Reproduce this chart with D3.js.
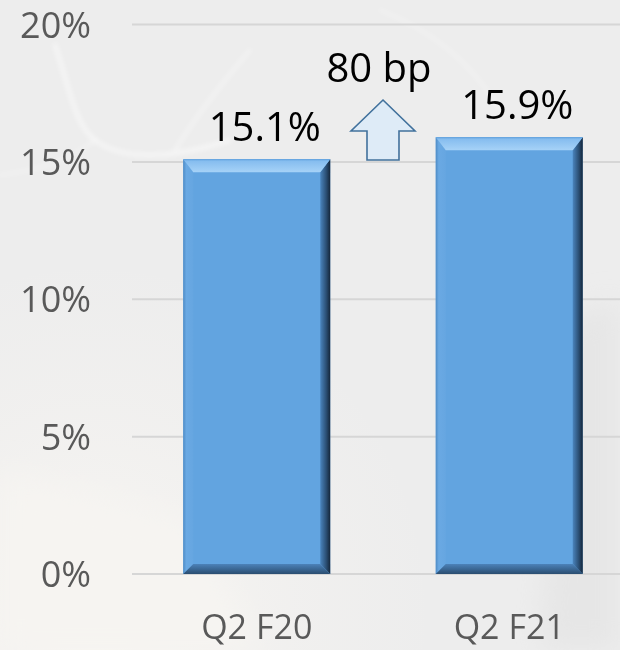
<!DOCTYPE html>
<html>
<head>
<meta charset="utf-8">
<script src="https://cdn.jsdelivr.net/npm/d3@7"></script>
<style>
  html, body { margin: 0; padding: 0; background: #eeeeee; }
  svg { display: block; }
</style>
</head>
<body>
<svg id="chart" width="620" height="650"></svg>
<script>
// Operating margin by quarter
const categories = ["Q2 F20", "Q2 F21"];
const values = [15.1, 15.9];
const valueLabels = ["15.1%", "15.9%"];
const yTicks = [0, 5, 10, 15, 20];
const yTickLabels = ["0%", "5%", "10%", "15%", "20%"];
const changeLabel = "80 bp";

const svg = d3.select("#chart");
const W = 620, H = 650;
const font = "'Open Sans', 'Noto Sans', sans-serif";

const defs = svg.append("defs");

// soft backdrop
const bgGrad = defs.append("radialGradient").attr("id", "bgWarm")
  .attr("cx", 0.15).attr("cy", 0.95).attr("r", 0.55);
bgGrad.append("stop").attr("offset", 0).attr("stop-color", "#f8f6f3").attr("stop-opacity", 1);
bgGrad.append("stop").attr("offset", 1).attr("stop-color", "#f5f3f0").attr("stop-opacity", 0);

const blur = defs.append("filter").attr("id", "soft").attr("x", -0.2).attr("y", -0.2).attr("width", 1.4).attr("height", 1.4);
blur.append("feGaussianBlur").attr("stdDeviation", 2.5);
const blurBig = defs.append("filter").attr("id", "softBig").attr("x", -0.3).attr("y", -0.3).attr("width", 1.6).attr("height", 1.6);
blurBig.append("feGaussianBlur").attr("stdDeviation", 14);

svg.append("rect").attr("width", W).attr("height", H).attr("fill", "#ededed");
svg.append("rect").attr("width", W).attr("height", H).attr("fill", "url(#bgWarm)");
svg.append("path")
  .attr("d", "M0,470 L190,520 L260,650 L0,650 Z")
  .attr("fill", "#f6f4f1").attr("filter", "url(#softBig)");
svg.append("path")
  .attr("d", "M560,320 L620,300 L620,650 L540,650 Z")
  .attr("fill", "#e6e6e6").attr("filter", "url(#softBig)");

// faint swirl lines
const swirl = svg.append("g").attr("fill", "none").attr("stroke", "#ffffff")
  .attr("filter", "url(#soft)").attr("stroke-linecap", "round");
swirl.append("path").attr("d", "M55,45 C70,90 75,125 95,140 C120,160 170,160 230,140")
  .attr("stroke-width", 4).attr("opacity", 0.55);
swirl.append("path").attr("d", "M250,50 C225,80 200,110 175,150")
  .attr("stroke-width", 3).attr("opacity", 0.45);
swirl.append("path").attr("d", "M0,175 C40,170 70,160 95,140")
  .attr("stroke-width", 3).attr("opacity", 0.35);
swirl.append("path").attr("d", "M380,10 C430,30 470,60 500,110")
  .attr("stroke-width", 3).attr("opacity", 0.3);

// scales
const y = d3.scaleLinear().domain([0, 20]).range([574, 24.5]);
const x = d3.scaleBand().domain(categories)
  .range([130.5, 635.5]).paddingInner(0.418).paddingOuter(0.209);

// gridlines
svg.append("g").selectAll("line").data(yTicks).join("line")
  .attr("x1", 132).attr("x2", W)
  .attr("y1", d => y(d)).attr("y2", d => y(d))
  .attr("stroke", "#d6d6d6").attr("stroke-width", 2);

// y axis labels
svg.append("g").selectAll("text").data(yTicks).join("text")
  .attr("x", 91).attr("y", d => y(d) + 13)
  .attr("text-anchor", "end")
  .attr("font-family", font).attr("font-size", 36)
  .attr("fill", "#595959")
  .text((d, i) => yTickLabels[i]);

// x axis labels
svg.append("g").selectAll("text").data(categories).join("text")
  .attr("x", d => x(d) + x.bandwidth() / 2)
  .attr("y", 639)
  .attr("text-anchor", "middle")
  .attr("font-family", font).attr("font-size", 34)
  .attr("fill", "#595959")
  .text(d => d);

// bevel gradients
function lin(id, x1, y1, x2, y2, stops) {
  const g = defs.append("linearGradient").attr("id", id)
    .attr("x1", x1).attr("y1", y1).attr("x2", x2).attr("y2", y2);
  stops.forEach(([o, c]) => g.append("stop").attr("offset", o).attr("stop-color", c));
}
lin("bvTop", 0, 0, 0, 1, [[0, "#5d9fdc"], [0.15, "#86bdef"], [1, "#a6d2f7"]]);
lin("bvLeft", 0, 0, 1, 0, [[0, "#4f8cc6"], [0.3, "#6aa9e3"], [1, "#66a6e1"]]);
lin("bvRight", 0, 0, 1, 0, [[0, "#4a84bd"], [0.6, "#2b4f74"], [1, "#14263a"]]);
lin("bvBottom", 0, 0, 0, 1, [[0, "#4c82b9"], [1, "#2a4d70"]]);

const bT = 13, bS = 10, bB = 10;
const bars = svg.append("g").selectAll("g").data(categories).join("g");
bars.each(function (d, i) {
  const g = d3.select(this);
  const x0 = x(d), x1 = x(d) + x.bandwidth();
  const y0 = y(values[i]), y1 = y(0);
  g.append("rect").attr("x", x0).attr("y", y0)
    .attr("width", x1 - x0).attr("height", y1 - y0).attr("fill", "#62a4e0");
  const poly = pts => pts.map(p => p.join(",")).join(" ");
  g.append("polygon").attr("fill", "url(#bvLeft)")
    .attr("points", poly([[x0, y0], [x0 + bS, y0 + bT], [x0 + bS, y1 - bB], [x0, y1]]));
  g.append("polygon").attr("fill", "url(#bvRight)")
    .attr("points", poly([[x1, y0], [x1 - bS, y0 + bT], [x1 - bS, y1 - bB], [x1, y1]]));
  g.append("polygon").attr("fill", "url(#bvBottom)")
    .attr("points", poly([[x0, y1], [x0 + bS, y1 - bB], [x1 - bS, y1 - bB], [x1, y1]]));
  g.append("polygon").attr("fill", "url(#bvTop)")
    .attr("points", poly([[x0, y0], [x1, y0], [x1 - bS, y0 + bT], [x0 + bS, y0 + bT]]));
});

// value labels
svg.append("g").selectAll("text").data(categories).join("text")
  .attr("x", d => x(d) + x.bandwidth() / 2 + 8)
  .attr("y", (d, i) => y(values[i]) - 18)
  .attr("text-anchor", "middle")
  .attr("font-family", font).attr("font-size", 40)
  .attr("fill", "#000000")
  .text((d, i) => valueLabels[i]);

// change indicator between the two bars
const midX = (x(categories[0]) + x.bandwidth() + x(categories[1])) / 2;
const tipY = 100, headY = 131, baseY = 160, headHalf = 32, shaftHalf = 16;
svg.append("polygon")
  .attr("points", [
    [midX, tipY], [midX + headHalf, headY], [midX + shaftHalf, headY],
    [midX + shaftHalf, baseY], [midX - shaftHalf, baseY], [midX - shaftHalf, headY],
    [midX - headHalf, headY]
  ].map(p => p.join(",")).join(" "))
  .attr("fill", "#deebf7").attr("stroke", "#41719c").attr("stroke-width", 1.6)
  .attr("stroke-linejoin", "miter");

svg.append("text")
  .attr("x", midX - 4).attr("y", 82)
  .attr("text-anchor", "middle")
  .attr("font-family", font).attr("font-size", 40)
  .attr("fill", "#000000")
  .text(changeLabel);
</script>
</body>
</html>
